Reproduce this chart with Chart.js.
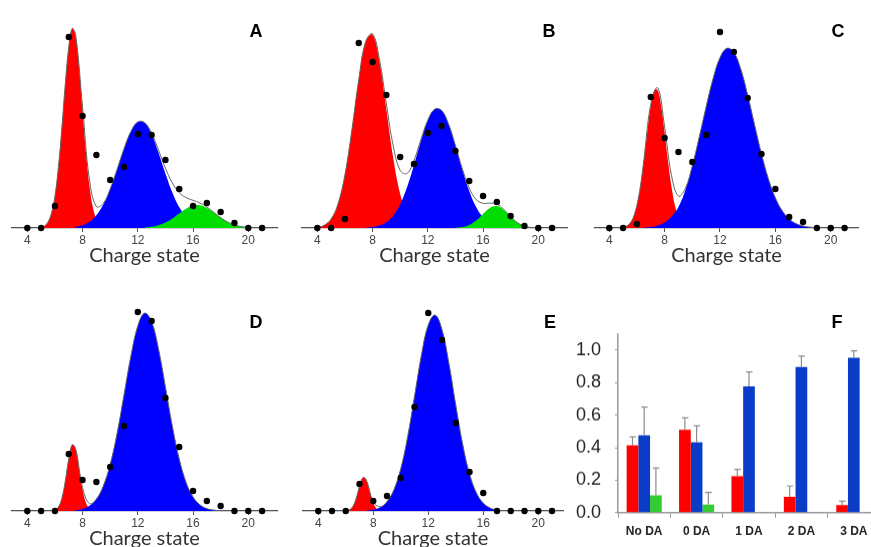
<!DOCTYPE html>
<html>
<head>
<meta charset="utf-8">
<title>Charge state distributions</title>
<script src="https://cdn.jsdelivr.net/npm/chart.js@4.4.1/dist/chart.umd.min.js"></script>
<style>
  html, body { margin: 0; padding: 0; background: #fff; }
  body { width: 871px; height: 547px; position: relative; overflow: hidden; }
  canvas { position: absolute; }
  .letter { position: absolute; width: 24px; text-align: center; font: bold 18px/18px "Liberation Sans", Arial, sans-serif; color: #000; }
</style>
</head>
<body>
<canvas id="chartA" width="290" height="268" style="left:0px;top:8px"></canvas>
<canvas id="chartB" width="290" height="268" style="left:290px;top:8px"></canvas>
<canvas id="chartC" width="291" height="268" style="left:580px;top:8px"></canvas>
<canvas id="chartD" width="290" height="268" style="left:0px;top:291px"></canvas>
<canvas id="chartE" width="290" height="268" style="left:290px;top:291px"></canvas>
<canvas id="chartF" width="312" height="229" style="left:568px;top:324px"></canvas>

<div class="letter" style="left:244px;top:22px">A</div>
<div class="letter" style="left:537px;top:22px">B</div>
<div class="letter" style="left:826px;top:22px">C</div>
<div class="letter" style="left:244px;top:313px">D</div>
<div class="letter" style="left:538px;top:313px">E</div>
<div class="letter" style="left:825px;top:313px">F</div>

<script>
// Charge state data (intensities in arbitrary units)
const chargeTicks = [4, 8, 12, 16, 20];
const dotCharges = [4, 5, 6, 7, 8, 9, 10, 11, 12, 13, 14, 15, 16, 17, 18, 19, 20, 21];

const dotsA = [0, 0, 22, 191, 112, 73, 48, 61, 94, 93, 68, 39, 22, 25, 16, 5, 0, 0];
const dotsB = [0, 0, 9, 185, 166, 133, 71, 64, 95, 102, 77, 47, 32, 26, 12, 2, 0, 0];
const dotsC = [0, 0, 4, 131, 90, 76, 66, 93, 196, 176, 130, 74, 39, 11, 6, 0, 0, 0];
const dotsD = [0, 0, 0, 57, 31, 29, 44, 85, 199, 190, 113, 64, 20, 10, 5, 0, 0, 0];
const dotsE = [0, 0, 0, 27, 10, 15, 33, 104, 198, 171, 88, 39, 18, 0, 0, 0, 0, 0];

// fitted components
// A: red from 4.75 step 0.25, blue from 7.5 step 0.5, green from 12.5 step 0.5
const redA = [0.2, 0.7, 2.1, 6.0, 14.9, 32, 60.7, 100, 144.2, 181, 199.5, 192, 160.7, 118, 75.4, 42, 20.6, 8.8, 3.3, 1.1, 0.3, 0];
const blueA = [1.1, 2.7, 6.2, 12.7, 23.5, 39.1, 58.7, 79.3, 96.6, 106.1, 105, 93.7, 75.3, 54.5, 35.6, 20.9, 11.1, 5.3, 2.3, 0.9, 0.3, 0];
const greenA = [0.4, 1.2, 2.7, 5.4, 9.5, 14.5, 19.3, 22.4, 22.7, 20.1, 15.5, 10.4, 6.1, 3.1, 1.4, 0.5, 0];
// B: red from 3.5, blue from 7.5, green from 14 (all step 0.5)
const redB = [0.2, 0.7, 2.8, 9.0, 24.2, 53.4, 97.9, 148.4, 186.2, 193.3, 166.2, 118.3, 69.7, 33.9, 13.7, 4.6, 1.3, 0.3, 0];
const blueB = [0.3, 0.9, 2.4, 5.7, 12.3, 23.7, 40.9, 63.1, 87.1, 107.6, 118.9, 117.6, 104.1, 82.4, 58.4, 37.0, 21.0, 10.7, 4.8, 2.0, 0.7, 0.2, 0];
const greenB = [0.2, 0.9, 3.0, 7.4, 14.0, 20.1, 21.9, 18.0, 11.3, 5.3, 1.9, 0.5, 0];
// C: red from 4.75 step 0.25, blue from 6.5 step 0.5
const redC = [0.2, 0.6, 1.8, 4.8, 11.1, 22.9, 41.7, 67.5, 96.6, 122.7, 138.1, 137.7, 121.8, 95.5, 66.3, 40.9, 22.3, 10.8, 4.6, 1.8, 0.6, 0.2];
const blueC = [0.5, 1, 2.5, 5.5, 11.5, 21, 38, 62, 91, 121.3, 149.4, 170.3, 179.7, 175.6, 158.9, 133, 103.1, 74, 49.1, 30.2, 17.2, 9.1, 4.4, 2.0, 0.8, 0.3, 0];
// D: red from 5.75 step 0.25, blue from 7.5 step 0.5
const redD = [0.2, 0.9, 4.0, 12.7, 30.0, 52.0, 66.2, 61.8, 42.4, 21.4, 7.9, 2.2, 0.4, 0];
const blueD = [0.7, 2.0, 5.2, 12.0, 25.1, 46.7, 77.8, 116.1, 155.0, 185.1, 197.9, 189.3, 162.0, 124.1, 85.0, 52.2, 28.6, 14.1, 6.2, 2.4, 0.9, 0.3, 0];
// E: red from 6 step 0.25, blue from 7.5 step 0.5
const redE = [0.1, 1.0, 4.2, 12.3, 24.7, 33.5, 30.7, 19.1, 8.0, 2.3, 0.4, 0];
const blueE = [0.4, 1.3, 3.7, 9.4, 21.3, 42.4, 74.3, 114.7, 155.7, 186.1, 195.9, 181.4, 147.9, 106.2, 67.1, 37.3, 18.3, 7.9, 3.0, 1.0, 0.3, 0];

// Panel F: fractions
const daCategories = ['No DA', '0 DA', '1 DA', '2 DA', '3 DA'];
const fracTicks = [0, 0.2, 0.4, 0.6, 0.8, 1.0];
const redFrac = [0.415, 0.51, 0.224, 0.098, 0.047];
const blueFrac = [0.476, 0.433, 0.778, 0.897, 0.953];
const greenFrac = [0.107, 0.049, 0, 0, 0];
const redErr = [0.051, 0.074, 0.043, 0.066, 0.023];
const blueErr = [0.174, 0.101, 0.088, 0.066, 0.043];
const greenErr = [0.168, 0.076, 0, 0, 0];

const RED = '#ff0000', BLUE = '#0000ff', GREEN = '#00dd00';
const SANS = '"Liberation Sans", Arial, sans-serif';

function curve(values, start, step) {
    return values.map((v, i) => ({ x: start + i * step, y: v }));
}

// sum of the components, only where every component has a sample (or is outside its range)
function sumCurve(parts) {
    const xs = [...new Set(parts.flatMap(p => p.map(pt => pt.x)))].sort((a, b) => a - b);
    const out = [];
    xs.forEach(x => {
        let y = 0, ok = true;
        parts.forEach(p => {
            const hit = p.find(pt => Math.abs(pt.x - x) < 1e-6);
            if (hit) y += hit.y;
            else if (x > p[0].x && x < p[p.length - 1].x) ok = false;
        });
        if (ok) out.push({ x, y });
    });
    return out;
}

const panels = [
    { id: 'chartA', xMin: 2.89, xMax: 22.08, pad: [12, 13], dots: dotsA,
      parts: [[redA, 4.75, 0.25, RED], [blueA, 7.5, 0.5, BLUE], [greenA, 12.5, 0.5, GREEN]] },
    { id: 'chartB', xMin: 2.89, xMax: 22.08, pad: [12, 13], dots: dotsB,
      parts: [[redB, 3.5, 0.5, RED], [blueB, 7.5, 0.5, BLUE], [greenB, 14, 0.5, GREEN]] },
    { id: 'chartC', xMin: 2.97, xMax: 21.97, pad: [15, 13], dots: dotsC,
      parts: [[redC, 4.75, 0.25, RED], [blueC, 6.5, 0.5, BLUE]] },
    { id: 'chartD', xMin: 2.89, xMax: 22.08, pad: [12, 13], dots: dotsD,
      parts: [[redD, 5.75, 0.25, RED], [blueD, 7.5, 0.5, BLUE]] },
    { id: 'chartE', xMin: 2.89, xMax: 21.8, pad: [13, 17], dots: dotsE,
      parts: [[redE, 6, 0.25, RED], [blueE, 7.5, 0.5, BLUE]] }
];

panels.forEach(p => {
    const comps = p.parts.map(([vals, start, step, color]) => ({ pts: curve(vals, start, step), color }));
    const total = sumCurve(comps.map(c => c.pts));
    total.unshift({ x: p.xMin, y: 0 });
    total.push({ x: p.xMax, y: 0 });

    const datasets = [
        { data: dotCharges.map((c, i) => ({ x: c, y: p.dots[i] })), showLine: false,
          pointRadius: 3.2, pointBackgroundColor: '#000', pointBorderWidth: 0, clip: false },
        { data: total, borderColor: '#666', borderWidth: 1, pointRadius: 0, tension: 0.4, fill: false }
    ];
    // later components sit on top of earlier ones (green over blue over red)
    comps.slice().reverse().forEach(c => {
        datasets.push({ data: c.pts, borderColor: 'rgba(0,0,0,0)', borderWidth: 0, backgroundColor: c.color,
                        pointRadius: 0, tension: 0.4, fill: 'origin' });
    });

    new Chart(document.getElementById(p.id), {
        type: 'line',
        data: { datasets },
        options: {
            responsive: false,
            animation: false,
            devicePixelRatio: 1,
            events: [],
            layout: { autoPadding: false, padding: { top: 5, left: p.pad[0], right: p.pad[1], bottom: 0 } },
            plugins: { legend: { display: false }, tooltip: { enabled: false } },
            scales: {
                x: {
                    type: 'linear', min: p.xMin, max: p.xMax,
                    afterBuildTicks: s => { s.ticks = chargeTicks.map(v => ({ value: v })); },
                    afterFit: s => { s.height = 48; },
                    grid: { drawOnChartArea: false, drawTicks: true, tickLength: 4, color: '#555' },
                    border: { display: true, color: '#444', width: 1.2 },
                    ticks: { padding: 1, color: '#444', font: { family: SANS, size: 12 } },
                    title: { display: true, text: 'Charge state', color: '#333',
                             font: { family: 'Lato, "Open Sans", sans-serif', size: 20 },
                             padding: { top: 0, bottom: 8 } }
                },
                y: { display: false, min: 0, max: 215 }
            }
        }
    });
});

// Error bars for panel F
const errorBars = {
    id: 'errorBars',
    afterDatasetsDraw(chart) {
        const ctx = chart.ctx;
        const y = chart.scales.y;
        ctx.save();
        ctx.strokeStyle = '#8c8c8c';
        ctx.lineWidth = 1.2;
        [redErr, blueErr, greenErr].forEach((errs, i) => {
            chart.getDatasetMeta(i).data.forEach((bar, j) => {
                if (!errs[j]) return;
                const top = y.getPixelForValue(chart.data.datasets[i].data[j] + errs[j]);
                ctx.beginPath();
                ctx.moveTo(bar.x, bar.y);
                ctx.lineTo(bar.x, top);
                ctx.moveTo(bar.x - 3, top);
                ctx.lineTo(bar.x + 3.5, top);
                ctx.stroke();
            });
        });
        ctx.restore();
    }
};

const canvasF = document.getElementById('chartF');
const chartF = new Chart(canvasF, {
    type: 'bar',
    data: {
        labels: daCategories,
        datasets: [
            { data: redFrac, backgroundColor: '#ff0000' },
            { data: blueFrac, backgroundColor: '#0a3cc8' },
            { data: greenFrac, backgroundColor: '#33cc33' }
        ]
    },
    options: {
        responsive: false,
        maintainAspectRatio: false,
        animation: false,
        devicePixelRatio: 1,
        events: [],
        categoryPercentage: 0.67,
        barPercentage: 1,
        layout: { autoPadding: false, padding: { top: 10, left: 0, right: 0, bottom: 0 } },
        plugins: { legend: { display: false }, tooltip: { enabled: false } },
        scales: {
            x: {
                afterFit: s => { s.height = 41; },
                grid: { offset: true, drawOnChartArea: false, tickLength: 5, color: '#999' },
                border: { color: '#999', width: 1.5 },
                ticks: { padding: 7, color: '#222', font: { family: SANS, size: 12, weight: 'bold' } }
            },
            y: {
                min: 0, max: 1.1,
                afterFit: s => { s.width = 50; },
                afterBuildTicks: s => { s.ticks = fracTicks.map(v => ({ value: v })); },
                grid: { drawOnChartArea: false, tickLength: 3, color: '#999' },
                border: { color: '#999', width: 1.5 },
                ticks: { padding: 14, color: '#222', font: { family: SANS, size: 18 },
                         callback: v => v.toFixed(1) }
            }
        }
    },
    plugins: [errorBars]
});

// place the plot area of F so that it spans y 334..512 on the page
const fAreaTop = chartF.chartArea.top;
const fTop = 334 - fAreaTop;
const fHeight = 512 + (chartF.height - chartF.chartArea.bottom) - fTop;
canvasF.style.top = fTop + 'px';
chartF.resize(312, fHeight);
</script>
</body>
</html>
